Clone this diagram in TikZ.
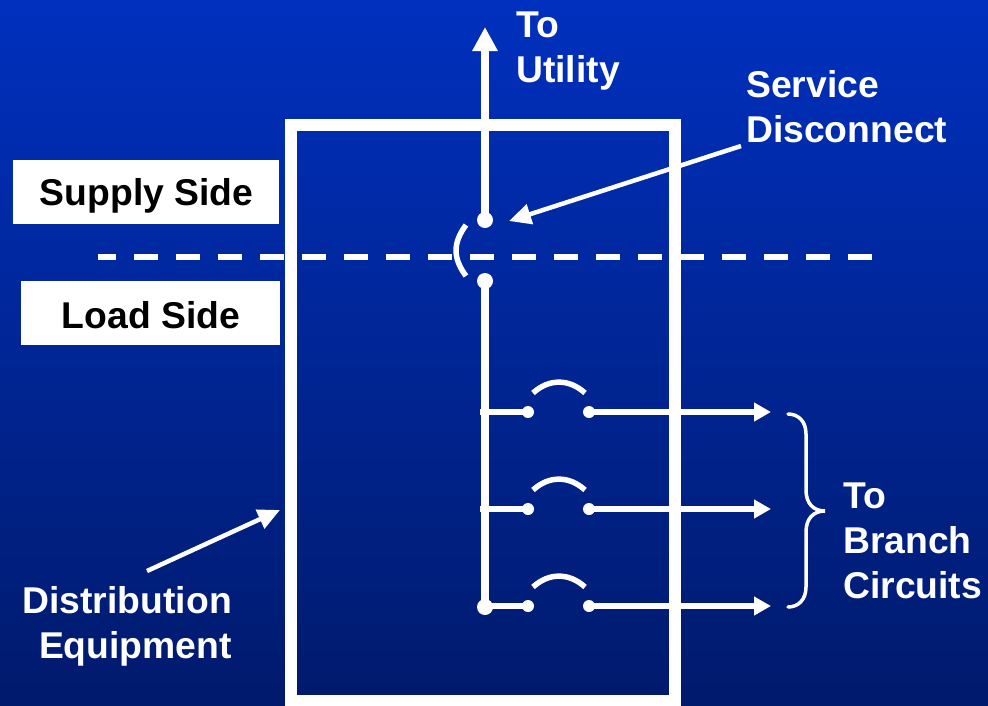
\documentclass[tikz,border=0pt]{standalone}
\usepackage{fontspec}
\setmainfont{Liberation Sans}
\usetikzlibrary{arrows.meta,calc}
\definecolor{bgtop}{RGB}{0,48,190}
\definecolor{bgbot}{RGB}{0,26,108}
\tikzset{
  wire/.style={draw=white,line width=8pt},
  thin wire/.style={draw=white,line width=6pt},
  dotbig/.style={circle,fill=white,inner sep=0pt,minimum size=16pt},
  dotsmall/.style={circle,fill=white,inner sep=0pt,minimum size=12pt},
  lbl/.style={text=white,font=\fontsize{37.3}{45}\selectfont\bfseries,align=left,inner sep=0pt,anchor=west},
  sidebox/.style={fill=white,inner sep=0pt},
  sidetext/.style={text=black,font=\fontsize{37.3}{45}\selectfont\bfseries,inner sep=0pt},
  point/.style={-{Triangle[length=22pt,width=20pt]},draw=white,line width=4.5pt}
}
\begin{document}
\begin{tikzpicture}[x=1pt,y=-1pt]
\useasboundingbox (0,0) rectangle (988,705);
\shade[top color=bgtop,bottom color=bgbot] (0,0) rectangle (988,705);
% dashed divider
\coordinate (dl) at (98,257);
\coordinate (dr) at (873,257);
\draw[draw=white,line width=6pt,dash pattern=on 24pt off 18pt,dash phase=6pt] (dl) -- (dr);
% frame
\coordinate (fbl) at (291,720);
\coordinate (ftl) at (291,125);
\coordinate (ftr) at (674.5,125);
\coordinate (fbr) at (674.5,720);
\draw[draw=white,line width=12pt,miter limit=10] (fbl) -- (ftl) -- (ftr) -- (fbr);
\fill[white] (285,694.5) rectangle (680.5,710);
% side boxes
\node[sidebox,minimum width=266pt,minimum height=64pt] (supply) at (146,192) {};
\node[sidetext] (supplyt) at (146.5,196) {Supply Side};
\node[sidebox,minimum width=259pt,minimum height=64pt] (load) at (150.5,313) {};
\node[sidetext] (loadt) at (151,315) {Load Side};
% main
\node[dotbig] (s1) at (485,220) {};
\node[dotbig] (s2) at (485,281) {};
\node[dotbig] (bus) at (485,607) {};
\coordinate (up) at (485,27);
\draw[wire,-{Triangle[length=24pt,width=24pt]}] (s1.center) -- (up);
\draw[wire] (s2.center) -- (bus.center);
\draw[draw=white,line width=5.5pt] (466,225) .. controls (452.7,243) and (452.7,258) .. (466,276);
% branches
\foreach \i/\y in {a/412,b/509,c/606}{
  \node[dotsmall] (l\i) at (528,\y) {};
  \node[dotsmall] (r\i) at (589,\y) {};
  \coordinate (j\i) at (480,\y);
  \coordinate (e\i) at (771,\y);
  \draw[thin wire] (j\i) -- (l\i.center);
  \draw[thin wire,-{Triangle[length=17pt,width=18pt]}] (r\i.center) -- (e\i);
  \draw[draw=white,line width=5.5pt] (533,\y-19) .. controls (549,\y-33.5) and (569,\y-33.5) .. (585,\y-19);
}
% brace
\coordinate (b1) at (788,414);
\coordinate (b2) at (825,511);
\coordinate (b3) at (788,607);
\draw[draw=white,line width=3.5pt,line cap=round] (b1) .. controls (798,414) and (806,421) .. (806,434) -- (806,490) .. controls (806,503) and (813,511) .. (b2) .. controls (813,511) and (806,519) .. (806,532) -- (806,587) .. controls (806,600) and (798,607) .. (b3);
% labels
\node[lbl] (util) at (516,51) {To\\Utility};
\node[lbl] (sd) at (746,107) {Service\\Disconnect};
\node[lbl] (tb) at (843,541) {To\\Branch\\Circuits};
\node[text=white,font=\fontsize{37.3}{45}\selectfont\bfseries,align=right,inner sep=0pt,anchor=east] (de) at (232,626) {Distribution\\Equipment};
% pointers
\coordinate (p1s) at (741,146);
\coordinate (p1e) at (509,221);
\coordinate (p2s) at (147,571);
\coordinate (p2e) at (280,510);
\draw[point] (p1s) -- (p1e);
\draw[point] (p2s) -- (p2e);
\end{tikzpicture}
\end{document}
